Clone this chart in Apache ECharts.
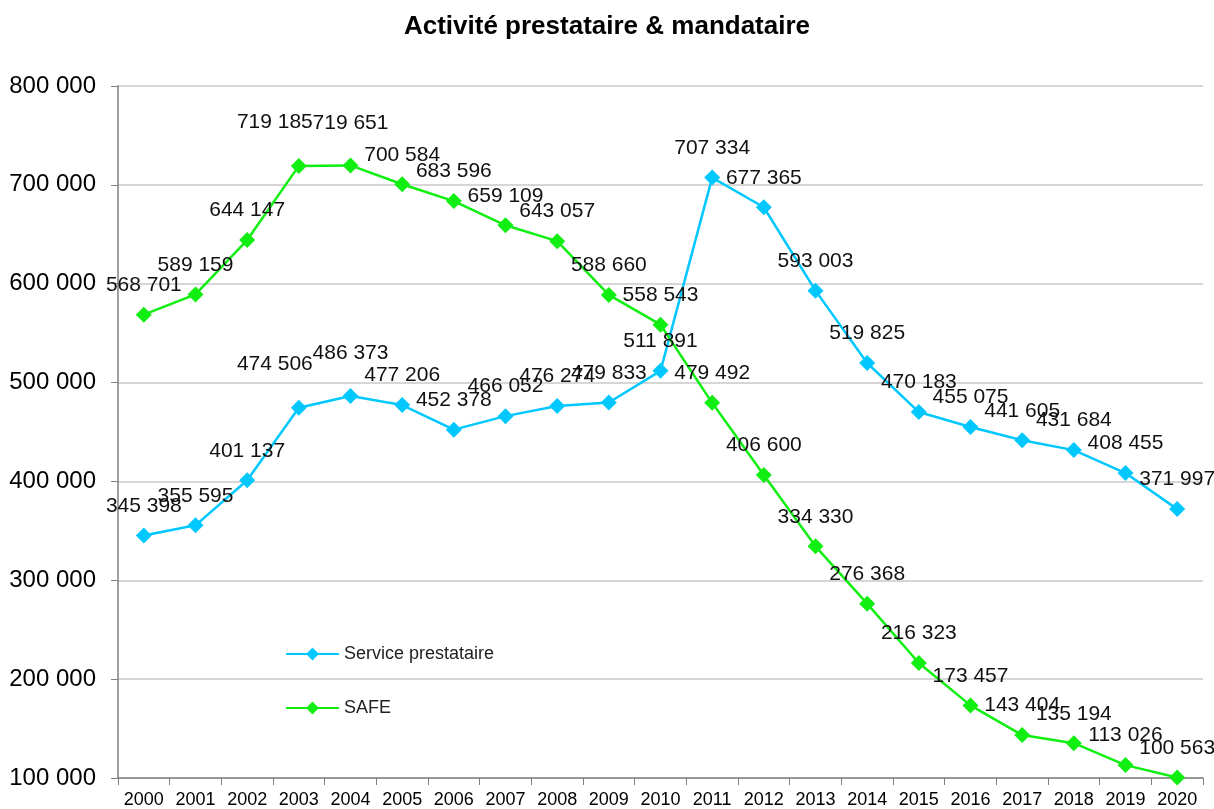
<!DOCTYPE html>
<html>
<head>
<meta charset="utf-8">
<script src="https://cdn.jsdelivr.net/npm/echarts@6/dist/echarts.min.js"></script>
<style>html,body{margin:0;padding:0;background:#fff}#c{width:1214px;height:809px}</style>
</head>
<body>
<div id="c"></div>
<script>
const years = ['2000','2001','2002','2003','2004','2005','2006','2007','2008','2009','2010','2011','2012','2013','2014','2015','2016','2017','2018','2019','2020'];
const servicePrestataire = [345398,355595,401137,474506,486373,477206,452378,466052,476274,479833,511891,707334,677365,593003,519825,470183,455075,441605,431684,408455,371997];
const safe = [568701,589159,644147,719185,719651,700584,683596,659109,643057,588660,558543,479492,406600,334330,276368,216323,173457,143404,135194,113026,100563];
const yTicks = [100000,200000,300000,400000,500000,600000,700000,800000];

const fmt = v => String(v).replace(/\B(?=(\d{3})+(?!\d))/g, ' ');

function build(arr) {
  return arr.map((v, i) => {
    const item = { value: v };
    if (years[i] === '2003') item.label = { offset: [-24, -14] };
    if (years[i] === '2004') item.label = { offset: [0, -13] };
    return item;
  });
}

const chart = echarts.init(document.getElementById('c'));
const labelStyle = {
  show: true, position: 'top', distance: 11,
  fontFamily: 'Liberation Sans, Arial, sans-serif', fontSize: 21, color: '#111',
  formatter: p => fmt(p.value)
};
chart.setOption({
  animation: false,
  title: {
    text: 'Activité prestataire & mandataire', left: 'center', top: 9,
    textStyle: { fontFamily: 'Liberation Sans, Arial, sans-serif', fontSize: 26, fontWeight: 'bold', color: '#000' }
  },
  legend: {
    orient: 'vertical', left: 280, top: 640, itemGap: 36, itemWidth: 53, itemHeight: 16,
    textStyle: { fontFamily: 'Liberation Sans, Arial, sans-serif', fontSize: 18, color: '#222' },
    data: ['Service prestataire', 'SAFE']
  },
  grid: { left: 118, right: 11, top: 86, bottom: 29 },
  xAxis: {
    type: 'category', data: years, boundaryGap: true,
    axisLine: { lineStyle: { color: '#808080', width: 1.5 } },
    axisTick: { show: true, alignWithLabel: false, length: 7, lineStyle: { color: '#808080' } },
    axisLabel: { fontFamily: 'Liberation Sans, Arial, sans-serif', fontSize: 18, color: '#000', margin: 13, interval: 0 }
  },
  yAxis: {
    type: 'value', min: yTicks[0], max: yTicks[yTicks.length - 1], interval: 100000,
    axisLine: { show: true, lineStyle: { color: '#808080', width: 1.5 } },
    axisTick: { show: true, length: 7, lineStyle: { color: '#808080' } },
    splitLine: { lineStyle: { color: '#C8C8C8', width: 1.5 } },
    axisLabel: { fontFamily: 'Liberation Sans, Arial, sans-serif', fontSize: 24, color: '#000', margin: 22, formatter: v => fmt(v) }
  },
  series: [
    {
      name: 'Service prestataire', type: 'line', data: build(servicePrestataire),
      symbol: 'diamond', symbolSize: 16,
      itemStyle: { color: '#00C8FF' }, lineStyle: { color: '#00C8FF', width: 2.5 },
      label: labelStyle
    },
    {
      name: 'SAFE', type: 'line', data: build(safe),
      symbol: 'diamond', symbolSize: 16,
      itemStyle: { color: '#11EE11' }, lineStyle: { color: '#11EE11', width: 2.5 },
      label: labelStyle
    }
  ]
});
</script>
</body>
</html>
